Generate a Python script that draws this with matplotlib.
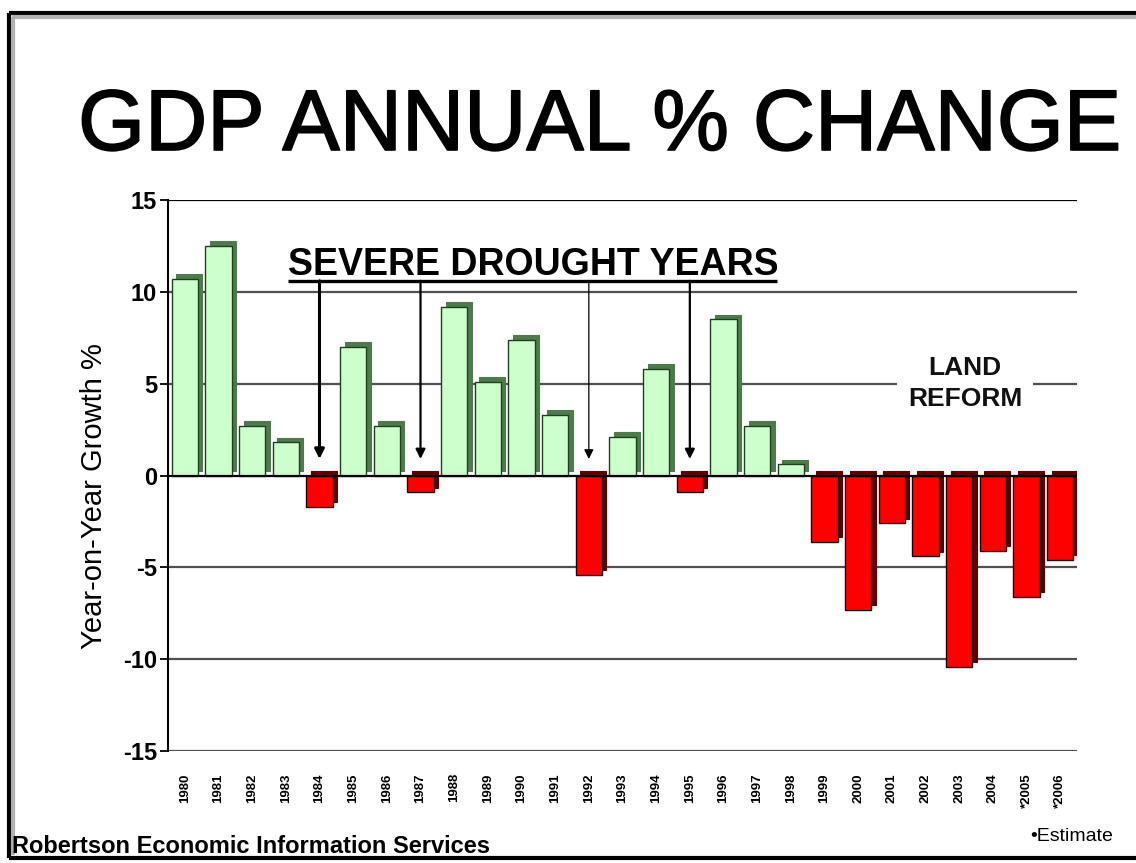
import matplotlib
matplotlib.use("Agg")
import matplotlib.pyplot as plt
import matplotlib.transforms as mtransforms
import matplotlib.patheffects as pe
from matplotlib.lines import Line2D

plt.rcParams['font.family'] = ['Liberation Sans', 'DejaVu Sans']

years = ["1980", "1981", "1982", "1983", "1984", "1985", "1986", "1987", "1988",
         "1989", "1990", "1991", "1992", "1993", "1994", "1995", "1996", "1997",
         "1998", "1999", "2000", "2001", "2002", "2003", "2004", "*2005", "*2006"]
growth = [10.7, 12.5, 2.7, 1.8, -1.7, 7.0, 2.7, -0.9, 9.2,
          5.1, 7.4, 3.3, -5.4, 2.1, 5.8, -0.9, 8.5, 2.7,
          0.6, -3.6, -7.3, -2.6, -4.4, -10.4, -4.1, -6.6, -4.6]
drought_years = ["1984", "1987", "1992", "1995"]
yticks = [-15, -10, -5, 0, 5, 10, 15]

W, H = 1136, 863
fig = plt.figure(figsize=(W / 100, H / 100), dpi=100)
fig.patch.set_facecolor("white")

ax = fig.add_axes([168 / W, 1 - 751 / H, (1077 - 168) / W, (751 - 200) / H])
ax.set_xlim(-0.5, len(years) - 0.5)
ax.set_ylim(-15, 15)

# gridlines
for v in yticks:
    if v == 0:
        continue
    ax.axhline(v, color="#000000" if v == 15 else "#505050", lw=1.6, zorder=0)

x = list(range(len(years)))
pos_face, pos_side = "#ccffcc", "#4e7a4e"
neg_face, neg_side = "#ff0000", "#5a0000"
face_cols = [pos_face if g >= 0 else neg_face for g in growth]
side_cols = [pos_side if g >= 0 else neg_side for g in growth]
edge_cols = ["#1f3f1f" if g >= 0 else "#200000" for g in growth]

width = 0.78
offset = mtransforms.ScaledTranslation(4.5 / 100, 4.5 / 100, fig.dpi_scale_trans)
ax.bar(x, growth, width=width, color=side_cols, edgecolor=side_cols, lw=0.8,
       transform=ax.transData + offset, zorder=2)
ax.bar(x, growth, width=width, color=face_cols, edgecolor=edge_cols, lw=1.0, zorder=3)

ax.axhline(0, color="black", lw=1.6, zorder=4)

# axes styling
for s in ["top", "right", "bottom"]:
    ax.spines[s].set_visible(False)
ax.spines["left"].set_linewidth(1.5)
ax.set_yticks(yticks)
ax.set_yticklabels([str(v) for v in yticks], fontsize=17, fontweight="bold")
ax.tick_params(axis="y", length=6, width=1.3, pad=2)
ax.set_xticks(x)
ax.set_xticklabels(years, rotation=90, fontsize=9.5, fontweight="bold")
ax.tick_params(axis="x", length=0, pad=16)
ax.set_ylabel("Year-on-Year Growth %", fontsize=21)
ax.yaxis.set_label_coords(-0.066, 0.463)

# drought annotation
ax.text(10.35, 10.9, "SEVERE DROUGHT YEARS", ha="center", va="baseline",
        fontsize=27, fontweight="bold", zorder=6)
ax.plot([3.06, 17.6], [10.6, 10.6], color="black", lw=2.4, zorder=6,
        solid_capstyle="butt")
arrow_w = {"1984": 2.2, "1987": 1.6, "1992": 0.9, "1995": 1.6}
for yr in drought_years:
    i = years.index(yr)
    ax.annotate("", xy=(i, 0.9), xytext=(i, 10.6),
                arrowprops=dict(arrowstyle="-|>", color="black", lw=arrow_w[yr],
                                mutation_scale=14, shrinkA=0, shrinkB=0), zorder=6)

# land reform
ax.text(23.17, 5.0, "LAND\nREFORM", ha="center", va="center", fontsize=19,
        fontweight="bold", linespacing=1.35, color="#111111",
        bbox=dict(facecolor="white", edgecolor="none", pad=8), zorder=5)

# title and footer
fig.text(600 / W, 1 - 128 / H, "GDP ANNUAL % CHANGE", ha="center", va="center",
         fontsize=62, path_effects=[pe.withStroke(linewidth=1.2, foreground="black")])
fig.text(12 / W, 1 - 846 / H, "Robertson Economic Information Services",
         ha="left", va="center", fontsize=17, fontweight="bold")
fig.text(1030 / W, 1 - 836 / H, "•Estimate", ha="left", va="center", fontsize=14)

# border
bk = dict(color="black", lw=3, transform=fig.transFigure, solid_capstyle="butt")
fig.add_artist(Line2D([9 / W, 1], [1 - 13 / H, 1 - 13 / H], **bk))
fig.add_artist(Line2D([9 / W, 9 / W], [1 - 13 / H, 1 - 858 / H], **bk))
fig.add_artist(Line2D([9 / W, 1], [1 - 858 / H, 1 - 858 / H], **bk))
gr = dict(color="#b0b0b0", lw=3, transform=fig.transFigure, solid_capstyle="butt")
fig.add_artist(Line2D([12 / W, 1], [1 - 17 / H, 1 - 17 / H], **gr))
fig.add_artist(Line2D([13 / W, 13 / W], [1 - 17 / H, 1 - 855 / H], **gr))

fig.savefig("out.png", dpi=100)
